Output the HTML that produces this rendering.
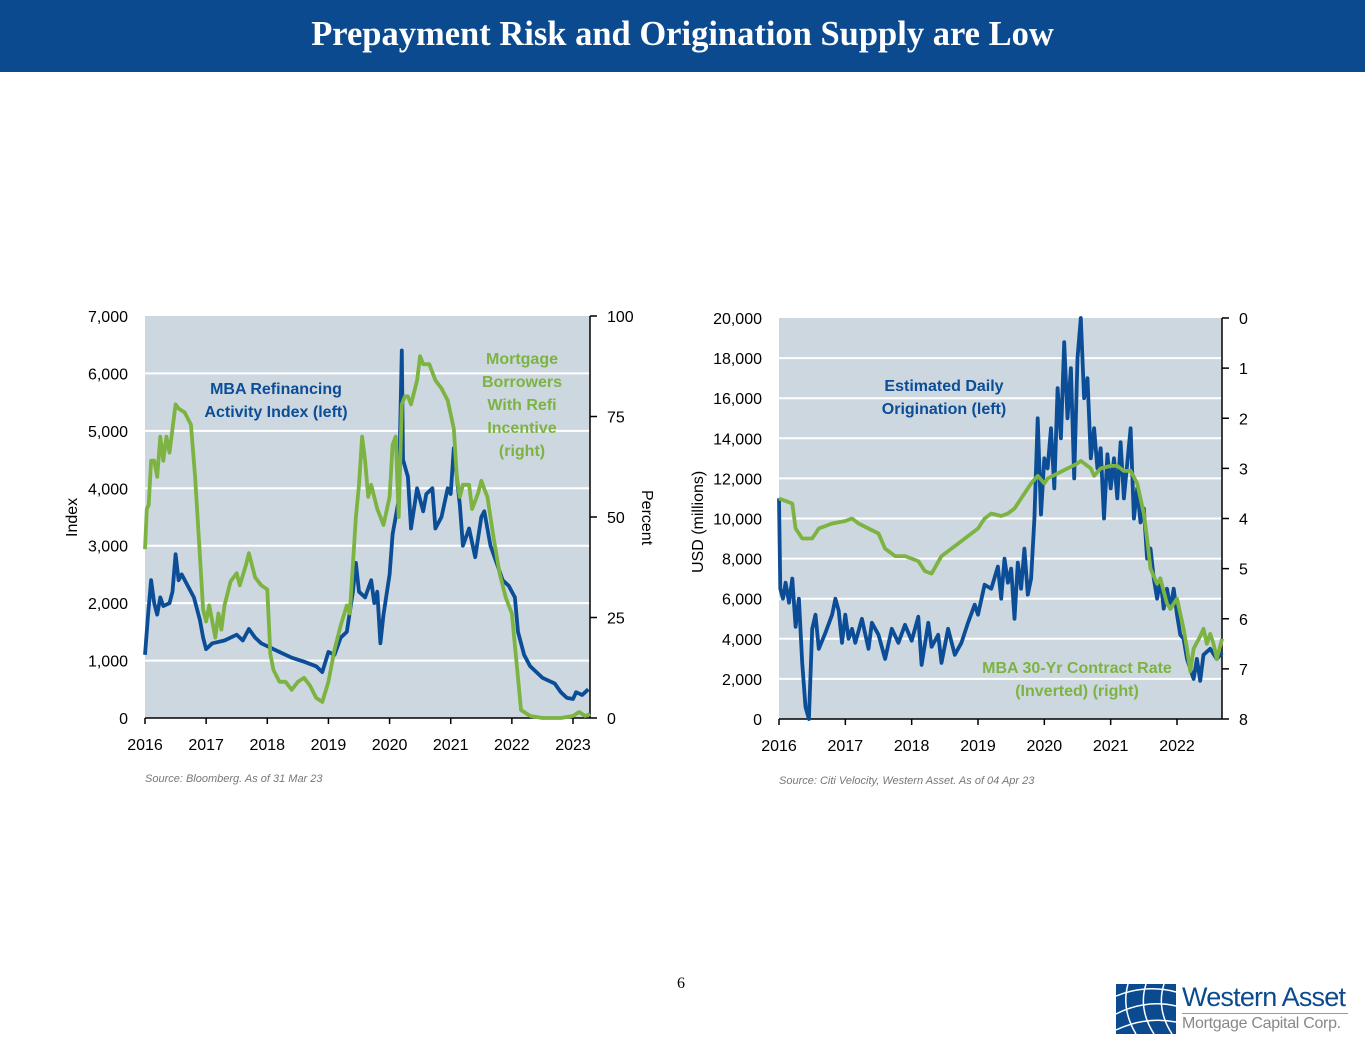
<!DOCTYPE html>
<html><head><meta charset="utf-8">
<style>
body{margin:0;width:1365px;height:1055px;background:#fff;position:relative;overflow:hidden;font-family:"Liberation Sans",sans-serif}
#hdr{position:absolute;left:0;top:0;width:1365px;height:72px;background:#0b4a8f;color:#fff;font-family:"Liberation Serif",serif;font-weight:bold;font-size:34.5px;text-align:center;line-height:68px}
svg text{font-family:"Liberation Sans",sans-serif}
</style></head><body>
<div id="hdr">Prepayment Risk and Origination Supply are Low</div>
<svg id="c1" width="1365" height="1055" style="position:absolute;left:0;top:0"></svg>
<div style="position:absolute;left:677px;top:975px;font-family:'Liberation Serif',serif;font-size:16px">6</div>
<div style="position:absolute;left:1116px;top:984px;width:240px;height:52px;white-space:nowrap">
<svg width="62" height="50" style="position:absolute;left:0;top:0"><rect width="60" height="50" fill="#0b4a8f"/><path d="M0 12 Q30 0 60 8 M0 30 Q30 15 60 22 M0 46 Q30 32 60 38 M12 0 Q5 25 20 50 M30 0 Q22 25 38 50 M48 0 Q40 25 56 50" stroke="#fff" stroke-width="1.5" fill="none"/></svg>
<div style="position:absolute;left:66px;top:-2px;font-size:27px;color:#0b4a8f;letter-spacing:-0.8px">Western Asset</div>
<div style="position:absolute;left:66px;top:29px;width:166px;border-top:1px solid #999"></div>
<div style="position:absolute;left:66px;top:31px;font-size:16px;color:#888;letter-spacing:-0.3px">Mortgage Capital Corp.</div>
</div>
<script>
// Chart 1 data
const refiYears=[2016.0,2016.05,2016.1,2016.15,2016.2,2016.25,2016.3,2016.4,2016.45,2016.5,2016.55,2016.6,2016.7,2016.8,2016.9,2016.95,2017.0,2017.1,2017.3,2017.5,2017.6,2017.7,2017.8,2017.9,2018.0,2018.2,2018.4,2018.6,2018.8,2018.9,2019.0,2019.1,2019.2,2019.3,2019.4,2019.45,2019.5,2019.6,2019.7,2019.75,2019.8,2019.85,2019.9,2020.0,2020.05,2020.1,2020.15,2020.2,2020.22,2020.3,2020.35,2020.45,2020.55,2020.6,2020.7,2020.75,2020.85,2020.95,2021.0,2021.05,2021.1,2021.15,2021.2,2021.3,2021.4,2021.5,2021.55,2021.65,2021.75,2021.85,2021.95,2022.05,2022.1,2022.2,2022.3,2022.5,2022.7,2022.8,2022.9,2023.0,2023.05,2023.15,2023.25];
const refiIndex=[1100,1800,2400,2000,1800,2100,1950,2000,2200,2850,2400,2500,2300,2100,1700,1400,1200,1300,1350,1450,1350,1550,1400,1300,1250,1150,1050,980,900,800,1150,1100,1400,1500,2200,2700,2200,2100,2400,2000,2200,1300,1800,2500,3200,3500,3800,6400,4500,4200,3300,4000,3600,3900,4000,3300,3500,4000,3900,4700,4200,3700,3000,3300,2800,3500,3600,3000,2700,2400,2300,2100,1500,1100,900,700,600,450,350,330,450,400,500];
const incYears=[2016.0,2016.03,2016.06,2016.1,2016.15,2016.2,2016.25,2016.3,2016.35,2016.4,2016.45,2016.5,2016.55,2016.65,2016.75,2016.82,2016.9,2016.95,2017.0,2017.05,2017.1,2017.15,2017.2,2017.25,2017.3,2017.4,2017.5,2017.55,2017.65,2017.7,2017.8,2017.9,2018.0,2018.05,2018.1,2018.2,2018.3,2018.4,2018.5,2018.6,2018.7,2018.8,2018.9,2019.0,2019.1,2019.2,2019.3,2019.35,2019.45,2019.5,2019.55,2019.6,2019.65,2019.7,2019.8,2019.9,2020.0,2020.05,2020.1,2020.15,2020.2,2020.25,2020.3,2020.35,2020.45,2020.5,2020.55,2020.65,2020.75,2020.85,2020.95,2021.05,2021.1,2021.15,2021.2,2021.3,2021.35,2021.45,2021.5,2021.55,2021.6,2021.7,2021.8,2021.9,2022.0,2022.05,2022.1,2022.15,2022.3,2022.5,2022.8,2023.0,2023.1,2023.2,2023.28];
const incPct=[42,52,53,64,64,60,70,64,70,66,72,78,77,76,73,60,40,27,24,28,24,20,26,22,28,34,36,33,38,41,35,33,32,16,12,9,9,7,9,10,8,5,4,9,17,23,28,26,50,58,70,64,55,58,52,48,55,68,70,50,78,80,80,78,84,90,88,88,84,82,79,72,60,55,58,58,52,56,59,57,55,45,36,30,26,18,10,2,0.5,0,0,0.5,1.5,0.5,1];
const c1LeftTicks=[0,1000,2000,3000,4000,5000,6000,7000];
const c1RightTicks=[0,25,50,75,100];
const c1Years=[2016,2017,2018,2019,2020,2021,2022,2023];
// Chart 2 data
const origYears=[2016.0,2016.02,2016.06,2016.1,2016.15,2016.2,2016.25,2016.3,2016.35,2016.4,2016.45,2016.5,2016.55,2016.6,2016.7,2016.8,2016.85,2016.9,2016.95,2017.0,2017.05,2017.1,2017.15,2017.25,2017.35,2017.4,2017.5,2017.6,2017.7,2017.8,2017.9,2018.0,2018.1,2018.15,2018.25,2018.3,2018.4,2018.45,2018.55,2018.65,2018.75,2018.85,2018.95,2019.0,2019.1,2019.2,2019.3,2019.35,2019.4,2019.45,2019.5,2019.55,2019.6,2019.65,2019.7,2019.75,2019.8,2019.85,2019.9,2019.95,2020.0,2020.05,2020.1,2020.15,2020.2,2020.25,2020.3,2020.35,2020.4,2020.45,2020.5,2020.55,2020.6,2020.65,2020.7,2020.75,2020.8,2020.85,2020.9,2020.95,2021.0,2021.05,2021.1,2021.15,2021.2,2021.3,2021.35,2021.4,2021.45,2021.5,2021.55,2021.6,2021.65,2021.7,2021.75,2021.8,2021.85,2021.9,2021.95,2022.0,2022.05,2022.1,2022.15,2022.2,2022.25,2022.3,2022.35,2022.4,2022.5,2022.6,2022.68];
const origUsd=[11000,6500,6000,6800,5800,7000,4600,6000,2800,600,0,4500,5200,3500,4300,5200,6000,5400,3800,5200,4000,4500,3800,5000,3500,4800,4200,3000,4500,3800,4700,3900,5100,2700,4800,3600,4200,2800,4500,3200,3800,4800,5700,5200,6700,6500,7600,6000,8000,6800,7500,5000,7800,6500,8500,6200,7000,10000,15000,10200,13000,12500,14500,11500,16500,14000,18800,15000,17500,12000,18000,20000,16000,17000,13000,14500,12500,13500,10000,13200,11500,13000,11000,13800,11000,14500,10000,11500,9800,10500,8000,8500,7000,6000,7000,5500,6500,5500,6500,5200,4200,4000,3000,2500,2000,3000,1900,3200,3500,3000,3300];
const rateYears=[2016.0,2016.1,2016.2,2016.25,2016.35,2016.5,2016.6,2016.8,2017.0,2017.1,2017.2,2017.35,2017.5,2017.6,2017.75,2017.9,2018.0,2018.1,2018.2,2018.3,2018.45,2018.6,2018.75,2018.9,2019.0,2019.1,2019.2,2019.35,2019.45,2019.55,2019.65,2019.8,2019.9,2020.0,2020.05,2020.2,2020.35,2020.5,2020.55,2020.7,2020.75,2020.85,2021.0,2021.1,2021.2,2021.3,2021.4,2021.5,2021.55,2021.6,2021.7,2021.75,2021.85,2021.9,2022.0,2022.1,2022.15,2022.2,2022.25,2022.35,2022.4,2022.45,2022.5,2022.55,2022.6,2022.68];
const rateVals=[3.6,3.65,3.7,4.2,4.4,4.4,4.2,4.1,4.05,4.0,4.1,4.2,4.3,4.6,4.75,4.75,4.8,4.85,5.05,5.1,4.75,4.6,4.45,4.3,4.2,4.0,3.9,3.95,3.9,3.8,3.6,3.3,3.15,3.3,3.2,3.1,3.0,2.9,2.85,3.0,3.15,3.0,2.95,2.95,3.05,3.05,3.3,3.9,4.4,5.0,5.3,5.2,5.7,5.8,5.6,6.2,6.6,7.05,6.6,6.35,6.2,6.5,6.3,6.5,6.8,6.4];
const c2LeftTicks=[0,2000,4000,6000,8000,10000,12000,14000,16000,18000,20000];
const c2RightTicks=[0,1,2,3,4,5,6,7,8];
const c2Years=[2016,2017,2018,2019,2020,2021,2022];

const svg=document.getElementById('c1');
const NS='http://www.w3.org/2000/svg';
function el(tag,attrs,text){const e=document.createElementNS(NS,tag);for(const k in attrs)e.setAttribute(k,attrs[k]);if(text!==undefined)e.textContent=text;svg.appendChild(e);return e;}
const BLUE='#0b4d96',GREEN='#7cb342';
function fmt(v){return v.toLocaleString('en-US');}
function drawChart(o){
  const X=y=>o.x0+(y-o.y0)/(o.y1-o.y0)*(o.x1-o.x0);
  const YL=v=>o.bot-(v-o.lmin)/(o.lmax-o.lmin)*(o.bot-o.top);
  const YR=v=>o.rinv? o.top+(v-o.rmin)/(o.rmax-o.rmin)*(o.bot-o.top) : o.bot-(v-o.rmin)/(o.rmax-o.rmin)*(o.bot-o.top);
  const bg=el('rect',{x:o.x0,y:o.top,width:o.px1-o.x0,height:o.bot-o.top,fill:'#cdd7df'});
  
  o.lt.forEach(v=>{
    if(v>o.lmin&&v<o.lmax){const g=el('line',{x1:o.x0,x2:o.px1,y1:YL(v),y2:YL(v),stroke:'#fff','stroke-width':2});
      }
    const t=el('text',{x:o.x0-17,y:YL(v)+6,'text-anchor':'end','font-size':16},fmt(v));
    
  });
  o.rt.forEach(v=>{
    el('line',{x1:o.px1,x2:o.px1+7,y1:YR(v),y2:YR(v),stroke:'#000','stroke-width':1.5});
    const t=el('text',{x:o.px1+17,y:YR(v)+6,'font-size':16},String(v));
    
  });
  el('line',{x1:o.px1,x2:o.px1,y1:o.top,y2:o.bot,stroke:'#000','stroke-width':1.5});
  el('line',{x1:o.x0,x2:o.px1,y1:o.bot,y2:o.bot,stroke:'#000','stroke-width':1.5});
  o.yr.forEach(y=>{
    el('line',{x1:X(y),x2:X(y),y1:o.bot,y2:o.bot+6,stroke:'#000','stroke-width':1.5});
    const t=el('text',{x:X(y),y:o.bot+32,'text-anchor':'middle','font-size':16},String(y));
    
  });
  const s1=el('polyline',{points:o.ax.map((y,i)=>X(y).toFixed(1)+','+YL(o.ay[i]).toFixed(1)).join(' '),fill:'none',stroke:o.c1,'stroke-width':3.8,'stroke-linejoin':'round'});
  
  const s2=el('polyline',{points:o.bx.map((y,i)=>X(y).toFixed(1)+','+YR(o.by[i]).toFixed(1)).join(' '),fill:'none',stroke:o.c2,'stroke-width':3.8,'stroke-linejoin':'round'});
  
}
drawChart({p:'refi',x0:145,y0:2016,x1:573,y1:2023,px1:590,top:316,bot:718,lmin:0,lmax:7000,rmin:0,rmax:100,rinv:false,lt:c1LeftTicks,rt:c1RightTicks,yr:c1Years,ax:refiYears,ay:refiIndex,bx:incYears,by:incPct,c1:BLUE,c2:GREEN});
drawChart({p:'orig',x0:779,y0:2016,x1:1177,y1:2022,px1:1222,top:318,bot:719,lmin:0,lmax:20000,rmin:0,rmax:8,rinv:true,lt:c2LeftTicks,rt:c2RightTicks,yr:c2Years,ax:origYears,ay:origUsd,bx:rateYears,by:rateVals,c1:BLUE,c2:GREEN});
function txt(x,y,s,attrs,name){const t=el('text',Object.assign({x:x,y:y},attrs),s);return t;}
const lb={'font-size':16,'font-weight':'bold','text-anchor':'middle'};
txt(276,394,'MBA Refinancing',Object.assign({fill:BLUE},lb),'blue-series-label');
txt(276,417,'Activity Index (left)',Object.assign({fill:BLUE},lb),'blue-series-label');
['Mortgage','Borrowers','With Refi','Incentive','(right)'].forEach((s,i)=>txt(522,364+i*23,s,Object.assign({fill:GREEN},lb),'green-series-label'));
txt(944,391,'Estimated Daily',Object.assign({fill:BLUE},lb),'blue-series-label');
txt(944,414,'Origination (left)',Object.assign({fill:BLUE},lb),'blue-series-label');
txt(1077,673,'MBA 30-Yr Contract Rate',Object.assign({fill:GREEN},lb),'green-series-label');
txt(1077,696,'(Inverted) (right)',Object.assign({fill:GREEN},lb),'green-series-label');
txt(0,0,'Index',{'font-size':16,transform:'translate(77,537) rotate(-90)'},'left-axis-title');
txt(0,0,'Percent',{'font-size':16,transform:'translate(642,490) rotate(90)'},'right-axis-title');
txt(0,0,'USD (millions)',{'font-size':16,transform:'translate(703,573) rotate(-90)'},'left-axis-title');
txt(145,782,'Source: Bloomberg. As of 31 Mar 23',{'font-size':11,'font-style':'italic',fill:'#777'},'source-note');
txt(779,784,'Source: Citi Velocity, Western Asset. As of 04 Apr 23',{'font-size':11,'font-style':'italic',fill:'#777'},'source-note');
</script>
</body></html>
